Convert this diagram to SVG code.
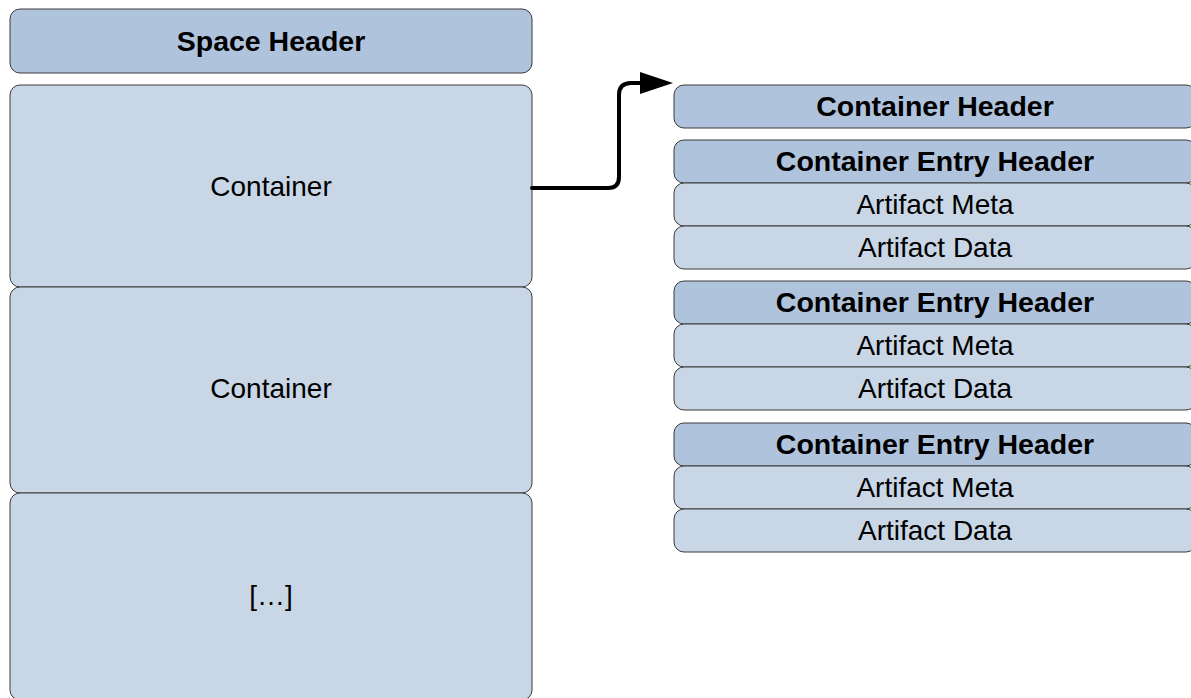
<svg xmlns="http://www.w3.org/2000/svg" width="1191" height="698" viewBox="0 0 1191 698">
<defs>
<style>
.hd{fill:#b0c3dc;stroke:#3a3a3a;stroke-width:1}
.lt{fill:#c8d6e6;stroke:#3a3a3a;stroke-width:1}
.b{font-family:"Liberation Sans",Arial,sans-serif;font-size:28.5px;font-weight:bold;fill:#000;text-anchor:middle}
.r{font-family:"Liberation Sans",Arial,sans-serif;font-size:28px;fill:#000;text-anchor:middle}
.c{fill:none;stroke:#000;stroke-width:4;stroke-linejoin:round;stroke-linecap:round}
</style>
</defs>
<g id="space-header"><rect class="hd" x="10" y="9" width="522" height="64" rx="10"/><text class="b" x="271" y="51">Space Header</text></g>
<g id="container-1"><rect class="lt" x="10" y="85" width="522" height="202" rx="10"/><text class="r" x="271" y="196">Container</text></g>
<g id="container-2"><rect class="lt" x="10" y="287" width="522" height="206" rx="10"/><text class="r" x="271" y="398">Container</text></g>
<g id="container-more"><rect class="lt" x="10" y="493" width="522" height="207" rx="10"/><text class="r" x="271" y="605">[…]</text></g>
<g id="container-header"><rect class="hd" x="674" y="85" width="522" height="43" rx="10"/><text class="b" x="935" y="116">Container Header</text></g>
<g id="entry-1">
<rect class="hd" x="674" y="140" width="522" height="43" rx="10"/><text class="b" x="935" y="171">Container Entry Header</text>
<rect class="lt" x="674" y="183" width="522" height="43" rx="10"/><text class="r" x="935" y="214">Artifact Meta</text>
<rect class="lt" x="674" y="226" width="522" height="43" rx="10"/><text class="r" x="935" y="257">Artifact Data</text>
</g>
<g id="entry-2">
<rect class="hd" x="674" y="281" width="522" height="43" rx="10"/><text class="b" x="935" y="312">Container Entry Header</text>
<rect class="lt" x="674" y="324" width="522" height="43" rx="10"/><text class="r" x="935" y="355">Artifact Meta</text>
<rect class="lt" x="674" y="367" width="522" height="43" rx="10"/><text class="r" x="935" y="398">Artifact Data</text>
</g>
<g id="entry-3">
<rect class="hd" x="674" y="423" width="522" height="43" rx="10"/><text class="b" x="935" y="454">Container Entry Header</text>
<rect class="lt" x="674" y="466" width="522" height="43" rx="10"/><text class="r" x="935" y="497">Artifact Meta</text>
<rect class="lt" x="674" y="509" width="522" height="43" rx="10"/><text class="r" x="935" y="540">Artifact Data</text>
</g>
<g id="connectors">
<path class="c" d="M532,188 H608 Q619,188 619,177 V95 Q619,83 631,83 H642"/>
<polygon points="640,72 673,83 640,94" fill="#000"/>
</g>
</svg>
